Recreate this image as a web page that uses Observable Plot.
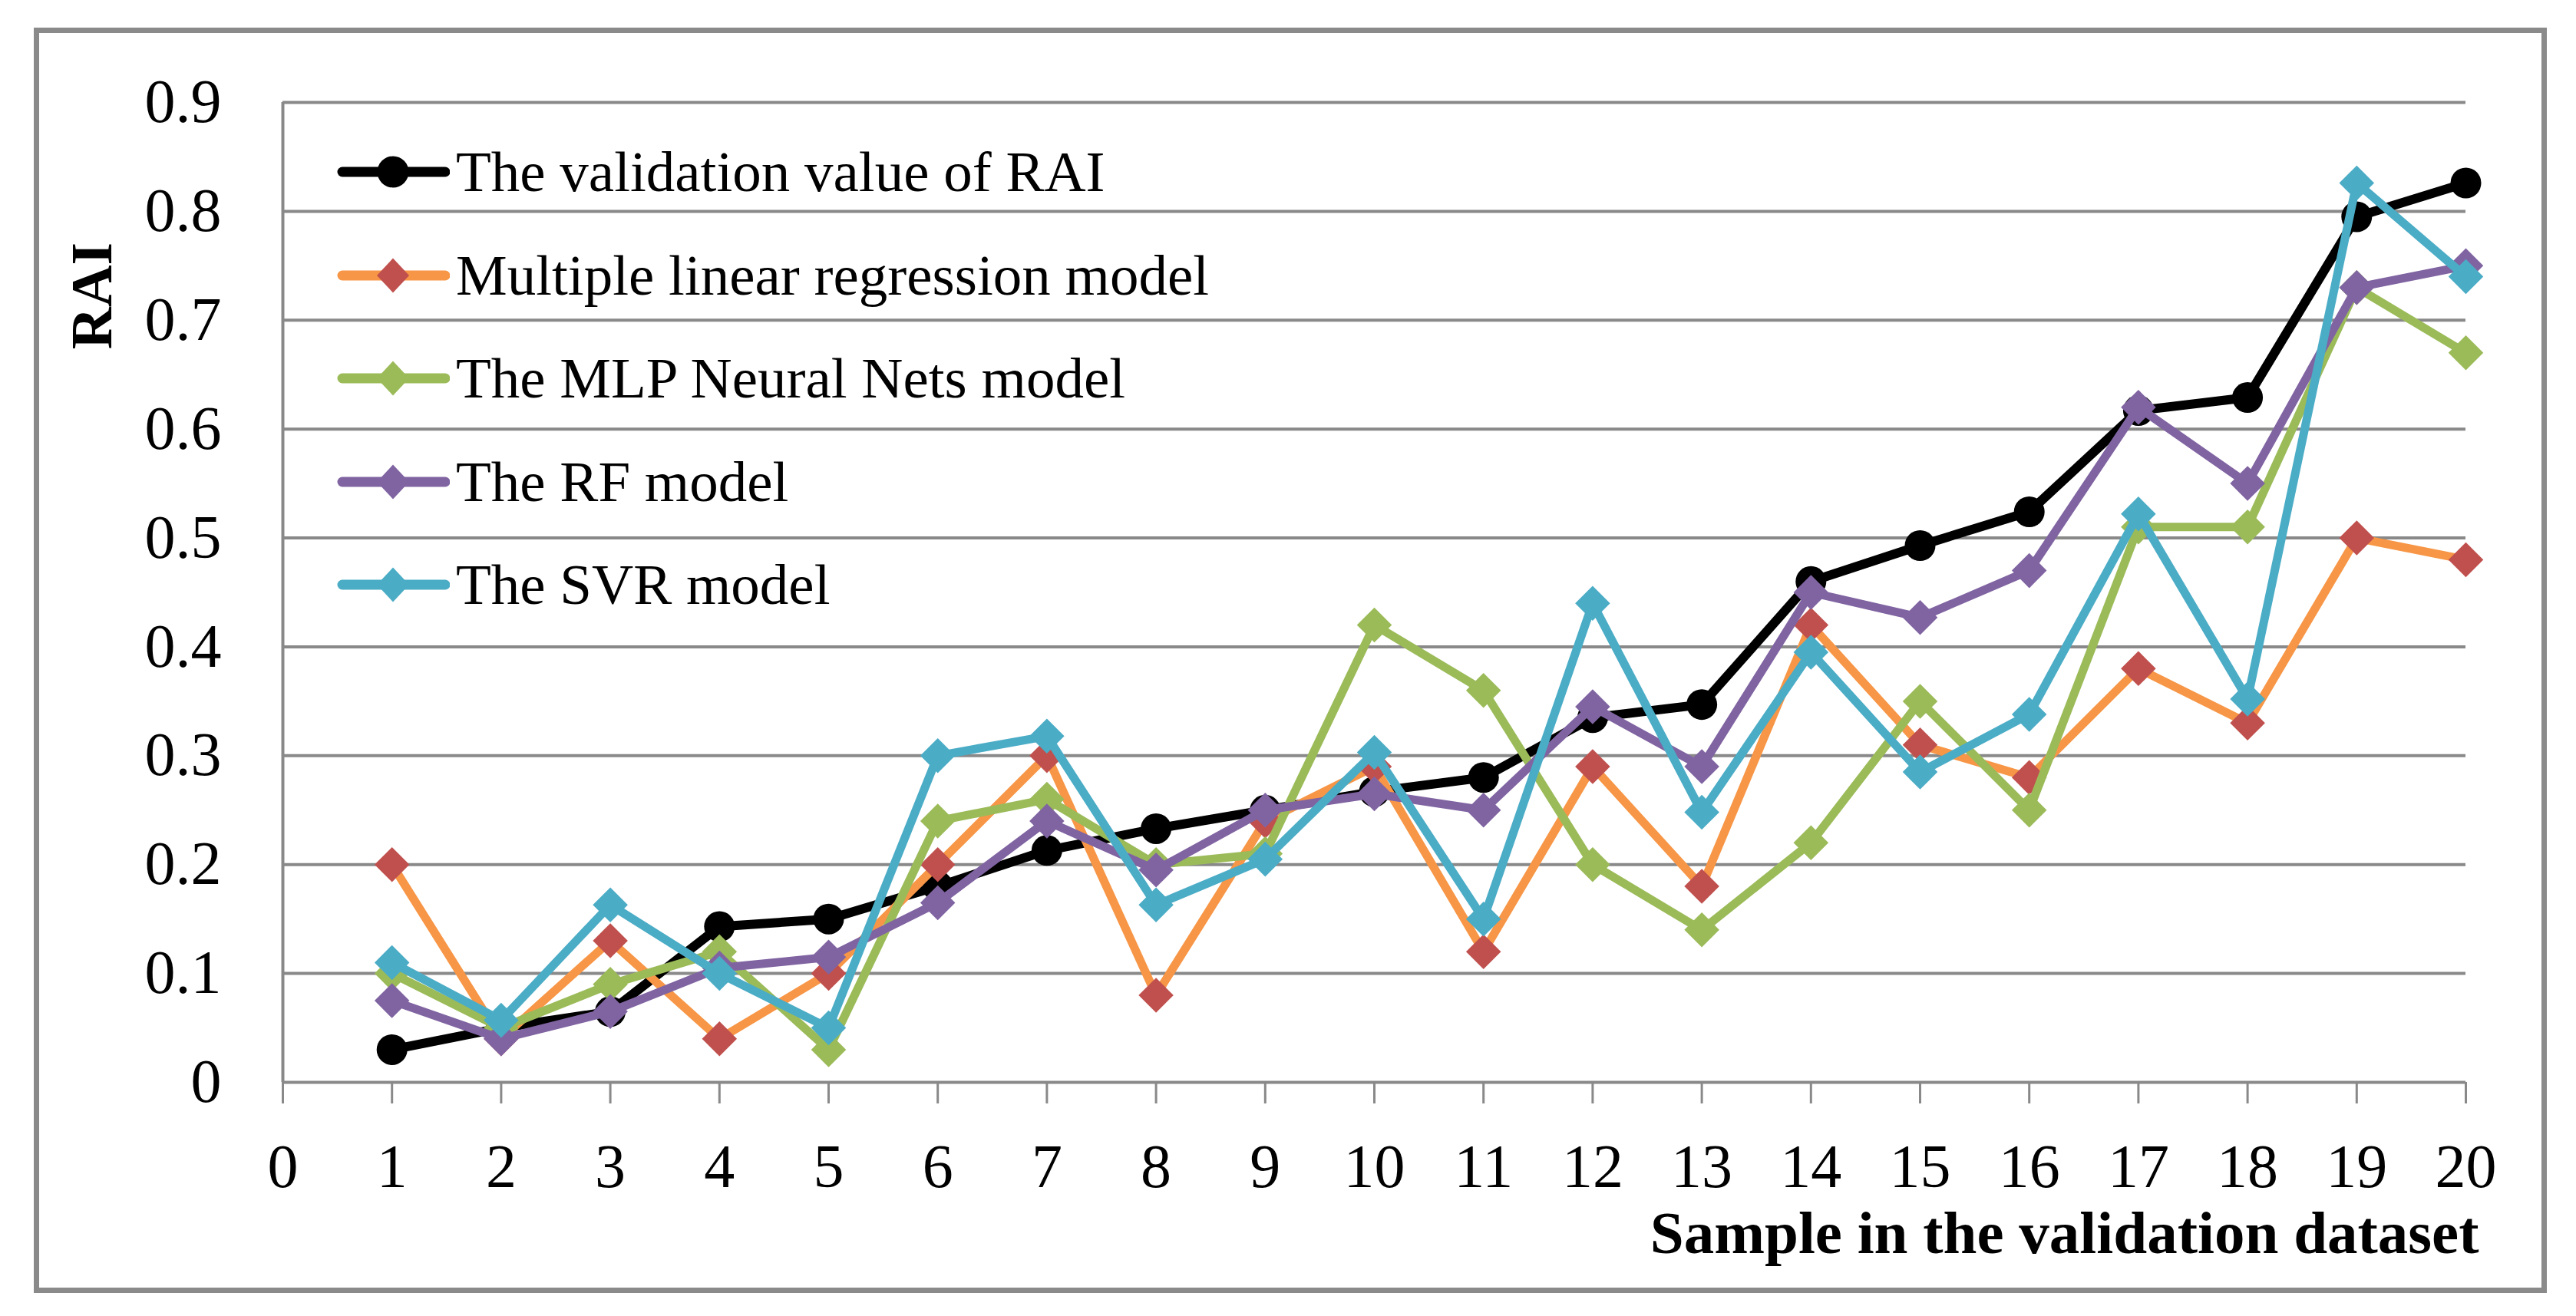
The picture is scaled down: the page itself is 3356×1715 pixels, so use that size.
<!DOCTYPE html>
<html>
<head>
<meta charset="utf-8">
<script src="https://cdn.jsdelivr.net/npm/d3@7"></script>
<script src="https://cdn.jsdelivr.net/npm/@observablehq/plot@0.6"></script>
<style>
  html, body { margin: 0; padding: 0; background: #fff; }
  #wrap { position: relative; width: 3356px; height: 1715px; overflow: hidden; background: #fff; }
  #chart { position: absolute; left: 0; top: 0; }
  #frame { position: absolute; left: 44px; top: 36px; width: 3274px; height: 1649px;
           border: 7px solid #8a8a8a; box-sizing: border-box; pointer-events: none; }
  #legend { position: absolute; left: 0; top: 0; font-family: "Liberation Serif", serif; font-size: 75px; color: #000; }
  .row { position: absolute; display: flex; align-items: center; height: 90px; white-space: nowrap; }
  .row span { margin-left: 8px; }
</style>
</head>
<body>
<div id="wrap">
  <div id="chart"></div>
  <div id="legend"></div>
  <div id="frame"></div>
</div>
<script>
// ---- data ----
const samples = [1, 2, 3, 4, 5, 6, 7, 8, 9, 10, 11, 12, 13, 14, 15, 16, 17, 18, 19, 20];
const validation = [0.03, 0.05, 0.065, 0.143, 0.15, 0.18, 0.213, 0.233, 0.25, 0.267, 0.28, 0.335, 0.347, 0.46, 0.493, 0.524, 0.617, 0.629, 0.795, 0.826];
const mlr = [0.20, 0.04, 0.13, 0.04, 0.10, 0.20, 0.30, 0.08, 0.24, 0.29, 0.12, 0.29, 0.18, 0.42, 0.31, 0.28, 0.38, 0.33, 0.50, 0.48];
const mlp = [0.10, 0.05, 0.09, 0.12, 0.03, 0.24, 0.26, 0.20, 0.21, 0.42, 0.36, 0.20, 0.14, 0.22, 0.35, 0.25, 0.51, 0.51, 0.73, 0.67];
const rf = [0.075, 0.04, 0.065, 0.105, 0.115, 0.165, 0.24, 0.195, 0.25, 0.265, 0.25, 0.345, 0.29, 0.45, 0.427, 0.47, 0.62, 0.55, 0.73, 0.75];
const svr = [0.11, 0.057, 0.163, 0.10, 0.05, 0.30, 0.318, 0.163, 0.205, 0.303, 0.15, 0.44, 0.248, 0.395, 0.285, 0.338, 0.522, 0.352, 0.826, 0.74];
const seriesNames = ["The validation value of RAI", "Multiple linear regression model", "The MLP Neural Nets model", "The RF model", "The SVR model"];
const xTicks = [0, 1, 2, 3, 4, 5, 6, 7, 8, 9, 10, 11, 12, 13, 14, 15, 16, 17, 18, 19, 20];
const yTicks = [0, 0.1, 0.2, 0.3, 0.4, 0.5, 0.6, 0.7, 0.8, 0.9];
const xTitle = "Sample in the validation dataset";
const yTitle = "RAI";

// ---- styles ----
const lineColors = ["#000000", "#F79646", "#9BBB59", "#8064A2", "#4BACC6"];
const markColors = ["#000000", "#C0504D", "#9BBB59", "#8064A2", "#4BACC6"];
const symbols = ["circle", "diamond2", "diamond2", "diamond2", "diamond2"];
const lineWidths = [12, 11, 11, 11, 11];
const radii = [20, 20.5, 20.5, 20.5, 20.5];

const seriesValues = [validation, mlr, mlp, rf, svr];
const rows = [];
seriesNames.forEach((name, i) => {
  seriesValues[i].forEach((v, j) => rows.push({series: name, idx: i, sample: samples[j], value: v}));
});

const grid = "#898989";
const marks = [
  Plot.ruleY(yTicks, {stroke: grid, strokeWidth: 4}),
  Plot.ruleX([0], {stroke: grid, strokeWidth: 4}),
  Plot.axisX({ticks: xTicks, tickSize: 28, tickPadding: 52, stroke: grid, strokeWidth: 3, strokeOpacity: 1,
              fill: "#000", fontSize: 80, label: null, tickFormat: d => String(d)}),
  Plot.axisY({ticks: yTicks, tickSize: 0, tickPadding: 80, fill: "#000", fontSize: 80, label: null,
              tickFormat: d => d === 0 ? "0" : d.toFixed(1)}),
  Plot.text([xTitle], {frameAnchor: "bottom-right", textAnchor: "end", lineAnchor: "middle", dx: 17, dy: 197,
              fontSize: 79, fontWeight: "bold", fill: "#000"}),
  Plot.text([yTitle], {frameAnchor: "top-left", rotate: -90, textAnchor: "middle", lineAnchor: "middle",
              dx: -248, dy: 252, fontSize: 76, fontWeight: "bold", fill: "#000", letterSpacing: "4px"})
];
seriesNames.forEach((name, i) => {
  const data = rows.filter(r => r.idx === i);
  marks.push(Plot.line(data, {x: "sample", y: "value", stroke: lineColors[i], strokeWidth: lineWidths[i],
                              strokeLinejoin: "round", strokeLinecap: "round"}));
  marks.push(Plot.dot(data, {x: "sample", y: "value", symbol: symbols[i], r: radii[i],
                             fill: markColors[i], stroke: "none"}));
});

const chart = Plot.plot({
  width: 3356,
  height: 1715,
  marginLeft: 368,
  marginRight: 144,
  marginTop: 133,
  marginBottom: 305,
  x: {domain: [0, 20]},
  y: {domain: [0, 0.9]},
  style: {fontFamily: "'Liberation Serif', serif", background: "transparent", color: "#000"},
  marks
});
document.getElementById("chart").appendChild(chart);

// ---- legend (overlay inside the plot area) ----
const legend = document.getElementById("legend");
seriesNames.forEach((name, i) => {
  const row = document.createElement("div");
  row.className = "row";
  row.style.left = "436px";
  row.style.top = (224 + i * 134.5 - 45) + "px";
  const ns = "http://www.w3.org/2000/svg";
  const s = document.createElementNS(ns, "svg");
  s.setAttribute("width", "150"); s.setAttribute("height", "90");
  const ln = document.createElementNS(ns, "line");
  ln.setAttribute("x1", "10"); ln.setAttribute("x2", "144");
  ln.setAttribute("y1", "45"); ln.setAttribute("y2", "45");
  ln.setAttribute("stroke", lineColors[i]); ln.setAttribute("stroke-width", "13");
  ln.setAttribute("stroke-linecap", "round");
  s.appendChild(ln);
  if (symbols[i] === "circle") {
    const c = document.createElementNS(ns, "circle");
    c.setAttribute("cx", "76"); c.setAttribute("cy", "45"); c.setAttribute("r", "20.5");
    c.setAttribute("fill", markColors[i]);
    s.appendChild(c);
  } else {
    const hx = 21, hy = 22.5;
    const p = document.createElementNS(ns, "polygon");
    p.setAttribute("points", `76,${45 - hy} ${76 + hx},45 76,${45 + hy} ${76 - hx},45`);
    p.setAttribute("fill", markColors[i]);
    s.appendChild(p);
  }
  row.appendChild(s);
  const t = document.createElement("span");
  t.textContent = name;
  row.appendChild(t);
  legend.appendChild(row);
});
</script>
</body>
</html>
